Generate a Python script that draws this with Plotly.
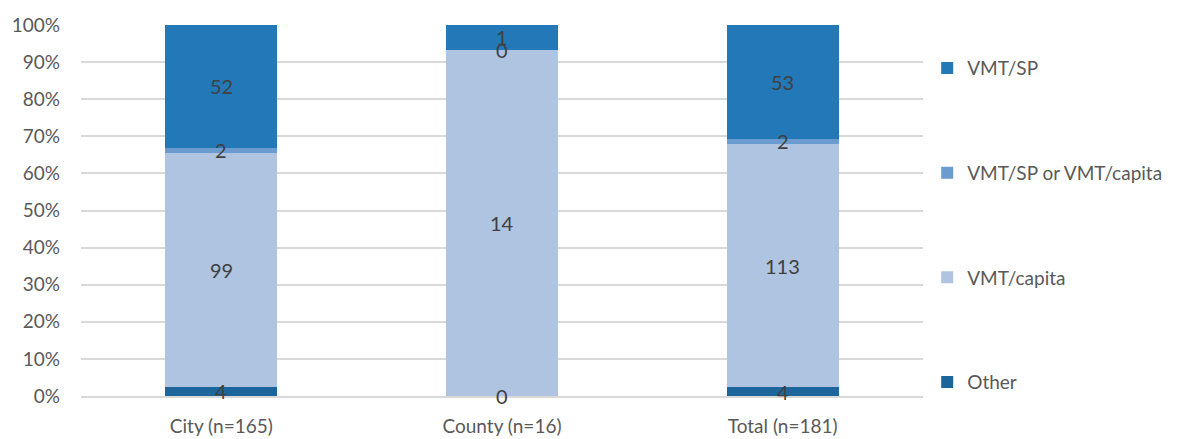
import plotly.graph_objects as go

categories = ["City (n=165)", "County (n=16)", "Total (n=181)"]
series_names = ["Other", "VMT/capita", "VMT/SP or VMT/capita", "VMT/SP"]
other = [4, 0, 4]
vmt_capita = [99, 14, 113]
vmt_sp_or_capita = [2, 0, 2]
vmt_sp = [52, 1, 53]
colors = ["#1D669C", "#AEC4E1", "#6C9BD0", "#2378B8"]

series_values = [other, vmt_capita, vmt_sp_or_capita, vmt_sp]
totals = [sum(v[i] for v in series_values) for i in range(len(categories))]

FONT = "Lato, 'Open Sans', sans-serif"
fig = go.Figure()
annotations = []
cum = [0.0] * len(categories)
n = len(series_names)
for k, (name, vals, col) in enumerate(zip(series_names, series_values, colors)):
    frac = [v / t for v, t in zip(vals, totals)]
    fig.add_trace(go.Bar(
        x=categories, y=frac, name=name, marker=dict(color=col, line=dict(width=0)),
        legendgroup=name, legendrank=n - k, hoverinfo="skip",
    ))
    for i, (v, f) in enumerate(zip(vals, frac)):
        annotations.append(dict(
            x=categories[i], y=cum[i] + f / 2, xref="x", yref="y", text=str(v),
            showarrow=False, font=dict(family=FONT, size=20, color="#404040"),
        ))
        cum[i] += f

fig.update_layout(
    barmode="stack", bargap=0.6,
    width=1193, height=439,
    margin=dict(l=81, r=270, t=25, b=43, autoexpand=False),
    paper_bgcolor="white", plot_bgcolor="white",
    font=dict(family=FONT, size=19, color="#595959"),
    annotations=annotations,
    legend=dict(
        x=1.005, xanchor="left", y=0.935, yanchor="top",
        traceorder="grouped", tracegroupgap=77,
        font=dict(size=19, color="#595959"), itemwidth=30,
    ),
    yaxis=dict(
        range=[0, 1], dtick=0.1, tickformat=".0%", showgrid=True,
        gridcolor="#D9D9D9", gridwidth=1.5, zeroline=False, showline=False,
        ticklabelstandoff=20, automargin=False,
    ),
    xaxis=dict(showline=True, linecolor="#D9D9D9", linewidth=1.5, ticks="",
               ticklabelstandoff=12, automargin=False),
)

fig.write_html("out.html")
